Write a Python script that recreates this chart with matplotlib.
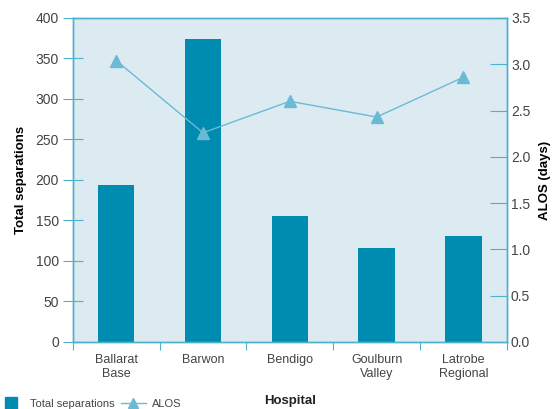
import matplotlib
matplotlib.use("Agg")
import matplotlib.pyplot as plt
from matplotlib.lines import Line2D
import numpy as np

hospitals = ["Ballarat\nBase", "Barwon", "Bendigo", "Goulburn\nValley", "Latrobe\nRegional"]
separations = [194, 374, 155, 116, 131]
alos = [3.04, 2.26, 2.60, 2.43, 2.86]

bar_color = "#008BB0"
line_color = "#6BBAD5"
spine_color = "#4DB0CC"
bg_color = "#DCEBF2"
text_color = "#444444"

plt.rcParams["font.family"] = ["Liberation Sans", "DejaVu Sans"]

fig = plt.figure(figsize=(5.6, 4.09), dpi=100)
ax = fig.add_axes([0.130, 0.164, 0.775, 0.792])
ax.set_facecolor(bg_color)

x = np.arange(len(hospitals))
ax.bar(x, separations, width=0.42, color=bar_color, zorder=2)
ax.set_xlim(-0.5, len(hospitals) - 0.5)
ax.set_ylim(0, 400)
ax.set_yticks(np.arange(0, 401, 50))

ax2 = ax.twinx()
ax2.plot(x, alos, color=line_color, linewidth=1, marker="^", markersize=8,
         markerfacecolor=line_color, markeredgecolor=line_color, zorder=3)
ax2.set_ylim(0, 3.5)
ax2.set_yticks(np.arange(0, 3.51, 0.5))
ax2.set_yticklabels([f"{v:.1f}" for v in np.arange(0, 3.51, 0.5)])

ax.set_xticks(np.arange(-0.5, len(hospitals), 1.0))
ax.set_xticklabels([])
ax.set_xticks(x, minor=True)
ax.set_xticklabels(hospitals, minor=True)
ax.tick_params(axis="x", which="major", direction="out", length=6, color=spine_color)
ax.tick_params(axis="x", which="minor", length=0, pad=9, labelsize=9, labelcolor=text_color)
ax.tick_params(axis="y", direction="inout", length=14, color=spine_color,
               labelsize=10, labelcolor=text_color, pad=3)
ax2.tick_params(axis="y", direction="in", length=12, color=spine_color,
                labelsize=10, labelcolor=text_color, pad=3)

for a in (ax, ax2):
    for s in a.spines.values():
        s.set_color(spine_color)
        s.set_linewidth(1)

ax.set_ylabel("Total separations", fontsize=9.5, fontweight="bold", labelpad=6)
ax2.set_ylabel("ALOS (days)", fontsize=9.5, fontweight="bold", labelpad=6)
fig.text(0.518, 0.004, "Hospital", ha="center", va="bottom",
         fontsize=9.5, fontweight="bold", color="#222222")

handles = [
    Line2D([], [], linestyle="none", marker="s", markersize=8, color=bar_color),
    Line2D([], [], color=line_color, linewidth=1, marker="^", markersize=7),
]
fig.legend(handles, ["Total separations", "ALOS"], loc="lower left",
           bbox_to_anchor=(-0.02, -0.025), ncol=2, frameon=False, fontsize=8,
           handlelength=2.2, columnspacing=0.6, handletextpad=0.6,
           labelcolor=text_color)

fig.savefig("out.png", dpi=100)
